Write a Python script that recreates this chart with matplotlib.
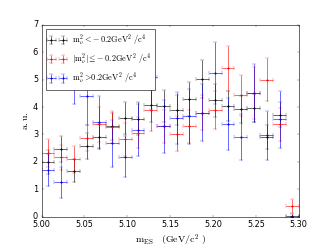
import numpy as np
import matplotlib
matplotlib.use('Agg')
import matplotlib.pyplot as plt

plt.style.use('classic')

# bin centres in m_ES (GeV/c^2), half bin width for the x error
mes = [5.0075, 5.0225, 5.0375, 5.0525, 5.0675, 5.0825, 5.0975, 5.1125, 5.1275, 5.1425,
       5.1575, 5.1725, 5.1875, 5.2025, 5.2175, 5.2325, 5.2475, 5.2625, 5.2775, 5.2925]
half_bin = 0.0075

# m_nu^2 < -0.2
neg = [1.99, 2.47, 1.67, 2.57, 2.92, 3.30, 3.60, 3.57, 4.09, 4.03,
       3.90, 4.28, 5.03, 4.24, 4.03, 3.92, 3.96, 2.91, 3.72, 0.04]
neg_err = [0.45, 0.46, 0.42, 0.47, 0.45, 0.50, 0.60, 0.60, 0.62, 0.58,
           0.55, 0.62, 0.70, 0.60, 0.55, 0.50, 0.50, 0.45, 0.45, 0.04]

# |m_nu^2| <= 0.2
mid = [2.33, 2.16, 2.09, 2.86, 3.37, 3.27, 2.83, 3.07, 3.88, 3.30,
       3.03, 3.30, 3.80, 3.90, 5.42, 4.43, 4.50, 5.00, 3.37, 0.40]
mid_err = [0.52, 0.45, 0.49, 0.47, 0.63, 0.60, 0.60, 0.55, 0.75, 0.60,
           0.64, 0.60, 0.65, 0.70, 0.82, 0.75, 0.95, 0.78, 0.60, 0.25]

# m_nu^2 > 0.2
pos = [1.69, 1.25, 5.33, 4.41, 3.45, 2.67, 2.18, 3.17, 5.09, 3.30,
       3.61, 3.66, 3.80, 5.24, 3.39, 2.91, 4.52, 2.97, 3.55, 0.00]
pos_err = [0.58, 0.56, 1.20, 1.05, 0.95, 0.85, 0.75, 0.95, 1.15, 0.97,
           0.95, 1.00, 1.03, 1.12, 0.95, 0.85, 1.07, 0.90, 1.03, 0.00]

fig = plt.figure(figsize=(8, 6), dpi=41.5)
ax = fig.add_subplot(111)
fig.subplots_adjust(left=0.125, right=0.9, top=0.9, bottom=0.13)

ax.errorbar(mes, neg, xerr=half_bin, yerr=neg_err, fmt='k.', ecolor='k',
            label=r'$\rm m_{\nu}^{2}<\!-0.2GeV^{2}\ /c^{4}$')
ax.errorbar(mes, mid, xerr=half_bin, yerr=mid_err, fmt='r.', ecolor='r',
            label=r'$\rm |m_{\nu}^{2}|\leq\!-0.2GeV^{2}\ /c^{4}$')
ax.errorbar(mes, pos, xerr=half_bin, yerr=pos_err, fmt='b.', ecolor='b',
            label=r'$\rm m_{\nu}^{2}>\!0.2GeV^{2}\ /c^{4}$')

ax.set_xlim(5.0, 5.3)
ax.set_ylim(0, 7)
ax.set_xticks([5.00, 5.05, 5.10, 5.15, 5.20, 5.25, 5.30])
ax.set_xticklabels(['5.00', '5.05', '5.10', '5.15', '5.20', '5.25', '5.30'])
ax.tick_params(labelsize=14, pad=6)
ax.set_xlabel(r'$\rm m_{ES}\ \ \ (GeV/c^{2}\ )$', fontsize=17)
ax.set_ylabel(r'$\rm a.u.$', fontsize=17)
ax.legend(loc='upper left')

fig.savefig('out.png', dpi=41.5)
